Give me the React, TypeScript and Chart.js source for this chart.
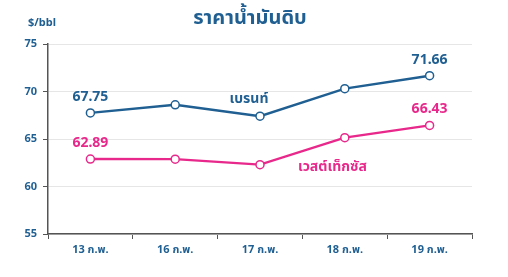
import React, { useEffect, useRef } from "react";
import { Chart, registerables } from "chart.js";

Chart.register(...registerables);

const categories = ["13 ก.พ.", "16 ก.พ.", "17 ก.พ.", "18 ก.พ.", "19 ก.พ."];
const brent = [67.75, 68.6, 67.4, 70.3, 71.66];
const wti = [62.89, 62.88, 62.3, 65.14, 66.43];
const yTicks = [55, 60, 65, 70, 75];
const title = "ราคาน้ำมันดิบ";
const unit = "$/bbl";
const brentName = "เบรนท์";
const wtiName = "เวสต์เท็กซัส";
const brentLabelIdx = [0, 4];
const wtiLabelIdx = [0, 4];

const BLUE = "#1f5f92";
const PINK = "#e8288b";
const FONT = "'Noto Sans', 'Noto Sans Thai', Tahoma, sans-serif";

const labelPlugin = {
  id: "labels",
  afterDatasetsDraw(chart: any) {
    const ctx = chart.ctx;
    const xs = chart.scales.x;
    const ys = chart.scales.y;
    ctx.save();
    ctx.textAlign = "center";
    ctx.textBaseline = "middle";
    // title
    ctx.fillStyle = BLUE;
    ctx.font = `bold 20px ${FONT}`;
    ctx.fillText(title, 250, 18);
    ctx.font = `bold 11px ${FONT}`;
    ctx.fillText(unit, 42, 23);
    // data labels
    ctx.font = `bold 14px ${FONT}`;
    brentLabelIdx.forEach((i) => {
      ctx.fillStyle = BLUE;
      ctx.fillText(brent[i].toFixed(2), xs.getPixelForValue(i), ys.getPixelForValue(brent[i]) - 16);
    });
    wtiLabelIdx.forEach((i) => {
      ctx.fillStyle = PINK;
      ctx.fillText(wti[i].toFixed(2), xs.getPixelForValue(i), ys.getPixelForValue(wti[i]) - 16);
    });
    // series names
    ctx.fillStyle = BLUE;
    ctx.fillText(brentName, xs.getPixelForValue(2) - 11, ys.getPixelForValue(69.2));
    ctx.fillStyle = PINK;
    ctx.fillText(wtiName, (xs.getPixelForValue(2) + xs.getPixelForValue(3)) / 2 + 30, ys.getPixelForValue(62.1));
    ctx.restore();
  },
};

export default function App() {
  const ref = useRef<HTMLCanvasElement>(null);
  useEffect(() => {
    if (!ref.current) return;
    const chart = new Chart(ref.current, {
      type: "line",
      data: {
        labels: categories,
        datasets: [
          {
            label: brentName,
            data: brent,
            borderColor: BLUE,
            backgroundColor: "#ffffff",
            borderWidth: 2.4,
            pointRadius: 4,
            pointBorderWidth: 1.5,
            pointBackgroundColor: "#ffffff",
            pointBorderColor: BLUE,
            tension: 0,
          },
          {
            label: wtiName,
            data: wti,
            borderColor: PINK,
            backgroundColor: "#ffffff",
            borderWidth: 2.4,
            pointRadius: 4,
            pointBorderWidth: 1.5,
            pointBackgroundColor: "#ffffff",
            pointBorderColor: PINK,
            tension: 0,
          },
        ],
      },
      options: {
        animation: false,
        responsive: false,
        maintainAspectRatio: false,
        layout: { padding: { top: 44, right: 36, bottom: 0, left: 0 } },
        plugins: {
          legend: { display: false },
          tooltip: { enabled: false },
          title: { display: false },
        },
        scales: {
          x: {
            offset: true,
            grid: {
              offset: true,
              drawOnChartArea: false,
              drawTicks: true,
              tickLength: 5,
              color: "#555555",
            },
            border: { color: "#555555", width: 1.5 },
            ticks: {
              color: BLUE,
              font: { family: FONT, size: 11, weight: "bold" },
              padding: 4,
              maxRotation: 0,
            },
            afterFit: (s: any) => {
              s.height = 43;
            },
          },
          y: {
            min: 55,
            max: 75,
            afterBuildTicks: (s: any) => {
              s.ticks = yTicks.map((v) => ({ value: v }));
            },
            grid: {
              color: "#e6e6e6",
              tickColor: "#555555",
              tickLength: 5,
              lineWidth: 1,
            },
            border: { color: "#555555", width: 1.5 },
            ticks: {
              color: BLUE,
              font: { family: FONT, size: 11, weight: "bold" },
              padding: 6,
            },
            afterFit: (s: any) => {
              s.width = 48;
            },
          },
        },
      },
      plugins: [labelPlugin],
    });
    return () => chart.destroy();
  }, []);
  return (
    <div style={{ position: "fixed", left: 0, top: 0, width: 508, height: 277, background: "#fff" }}>
      <canvas ref={ref} width={508} height={277} style={{ width: 508, height: 277 }} />
    </div>
  );
}
